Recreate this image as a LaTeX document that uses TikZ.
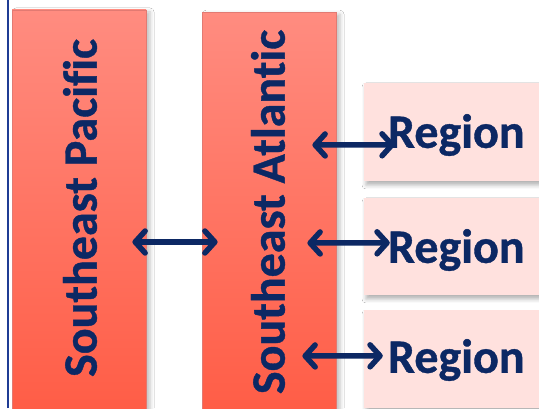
\documentclass[tikz,border=0pt]{standalone}
\usepackage{fontspec}
\setmainfont{Carlito}[Ligatures=CommonOff,BoldFeatures={FakeBold=0.8}]
\usetikzlibrary{arrows.meta,shadows.blur}
\definecolor{navy}{HTML}{0C2864}
\definecolor{salmontop}{HTML}{FF8C80}
\definecolor{salmonbot}{HTML}{FF5C45}
\definecolor{barline}{HTML}{E27A72}
\definecolor{regionfill}{HTML}{FFE1DE}
\definecolor{frameblue}{HTML}{1F3C94}
\begin{document}
\begin{tikzpicture}[x=1pt,y=1pt,
		bar/.style={rectangle,draw=barline,line width=.8pt,top color=salmontop,bottom color=salmonbot,
			minimum width=134pt,inner sep=0pt,
			blur shadow={shadow xshift=4pt,shadow yshift=-2pt,shadow blur radius=4pt,shadow opacity=25}},
		regionbox/.style={rectangle,fill=regionfill,minimum width=200pt,minimum height=98pt,inner sep=0pt,
			blur shadow={shadow xshift=2pt,shadow yshift=-4pt,shadow blur radius=4pt,shadow opacity=30}},
		lbl/.style={text=navy,font=\fontsize{48}{52}\selectfont\bfseries,inner sep=0pt},
		link/.style={draw=navy,line width=5.5pt,line cap=round,<->,>={Straight Barb[length=10pt,width=22pt,round]}}]
	\useasboundingbox (0,0) rectangle (539,408);
	\clip (0,0) rectangle (539,408);
	\fill[white] (0,0) rectangle (539,408);
	\draw[frameblue,line width=2.5pt] (8,0) -- (8,408);
	% the two ocean bars
	\node[bar,minimum height=410pt] (pac) at (79,193) {};
	\node[bar,minimum height=408pt] (atl) at (269,191.75) {};
	\node[lbl,rotate=90] (pactxt) at (80,200) {Southeast Pacific};
	\node[lbl,rotate=90] (atltxt) at (268,196) {Southeast Atlantic};
	% region boxes
	\node[regionbox] (r1) at (464,276) {};
	\node[regionbox,minimum height=97pt] (r2) at (464,161.5) {};
	\node[regionbox] (r3) at (464,49) {};
	\node[lbl,anchor=base west] (t1) at ([xshift=24pt,yshift=-65pt]r1.north west) {Region};
	\node[lbl,anchor=base west] (t2) at ([xshift=24pt,yshift=-65pt]r2.north west) {Region};
	\node[lbl,anchor=base west] (t3) at ([xshift=24pt,yshift=-63pt]r3.north west) {Region};
	% links
	\draw[link] ([shift={(-14pt,-27pt)}]pac.east) -- ([shift={(16pt,-25.75pt)}]atl.west);
	\draw[link] ([shift={(-24pt,71.25pt)}]atl.east) -- ([shift={(7pt,3pt)}]t1.base west);
	\draw[link] ([shift={(-29pt,-26.75pt)}]atl.east) -- ([shift={(2pt,20pt)}]t2.base west);
	\draw[link] ([shift={(-34pt,-139.75pt)}]atl.east) -- ([shift={(-5pt,17pt)}]t3.base west);
\end{tikzpicture}
\end{document}
